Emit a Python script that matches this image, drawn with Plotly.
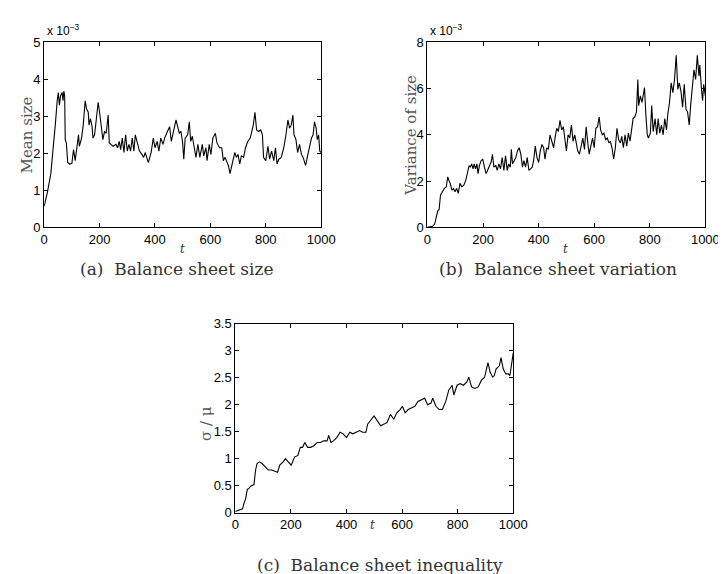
import plotly.graph_objects as go

# ---------------- data ----------------
t_a = [0, 12, 24, 35, 41, 47, 51, 55, 59, 65, 68, 71, 74, 76, 80, 85, 92, 100, 106, 112,
       118, 124, 127, 135, 141, 148, 153, 159, 162, 167, 173, 176, 182, 188, 195, 200, 206,
       212, 218, 224, 231, 235, 241, 249, 259, 265, 271, 276, 282, 288, 294, 300, 306, 312,
       318, 324, 329, 335, 344, 353, 359, 365, 371, 376, 386, 394, 400, 408, 414, 421, 429,
       435, 445, 453, 459, 467, 476, 482, 488, 494, 500, 504, 509, 518, 524, 529, 535, 541,
       548, 555, 562, 571, 576, 584, 588, 596, 602, 609, 618, 624, 633, 641, 647, 653, 659,
       665, 671, 676, 682, 688, 694, 700, 706, 712, 720, 727, 735, 744, 751, 755, 761, 767,
       774, 782, 788, 792, 800, 808, 814, 821, 829, 835, 841, 847, 856, 865, 873, 880, 886,
       892, 898, 902, 909, 915, 922, 929, 935, 944, 951, 959, 965, 971, 976, 982, 986, 991,
       995, 1000]
mean_size_e3 = [0.57, 0.96, 1.45, 2.24, 2.85, 3.42, 3.64, 3.30, 3.55, 3.64, 3.42, 3.68, 3.55,
                2.37, 2.28, 1.75, 1.71, 1.73, 2.10, 1.80, 2.24, 2.50, 2.19, 2.41, 2.76, 3.42,
                3.20, 3.11, 2.76, 2.94, 2.72, 2.41, 2.50, 2.94, 3.38, 3.11, 2.76, 2.37, 2.59,
                2.54, 3.03, 2.28, 2.24, 2.19, 2.24, 2.15, 2.32, 2.10, 2.41, 2.02, 2.50, 2.06,
                2.24, 2.06, 2.41, 2.06, 2.50, 2.32, 2.06, 1.97, 1.89, 2.02, 1.84, 1.75, 2.02,
                2.41, 2.15, 2.32, 2.06, 2.41, 2.24, 2.41, 2.59, 2.72, 2.32, 2.59, 2.90, 2.72,
                2.54, 2.59, 2.28, 1.84, 2.41, 2.50, 2.85, 2.32, 2.46, 2.19, 1.89, 2.24, 1.89,
                2.24, 1.93, 2.15, 1.80, 2.24, 1.97, 2.41, 2.54, 2.28, 2.15, 2.15, 1.80, 1.89,
                1.75, 1.67, 1.45, 1.62, 1.89, 2.02, 1.89, 1.97, 1.71, 1.93, 1.89, 2.15, 2.32,
                2.41, 2.63, 2.76, 3.11, 2.63, 2.59, 2.63, 2.50, 1.89, 1.80, 2.19, 1.84, 2.06,
                1.80, 2.15, 1.71, 1.84, 1.89, 2.15, 2.50, 2.90, 2.68, 2.76, 3.03, 2.50, 2.37,
                2.02, 2.24, 1.97, 1.89, 1.67, 1.93, 2.24, 2.41, 2.50, 2.85, 2.68, 2.37, 2.50,
                2.06, 2.02]

t_b = [0, 18, 26, 33, 37, 42, 47, 54, 61, 68, 73, 77, 82, 88, 94, 99, 105, 111, 117, 124,
       131, 138, 144, 150, 154, 159, 164, 168, 173, 178, 182, 187, 193, 199, 205, 211, 216,
       222, 229, 234, 239, 246, 251, 257, 263, 269, 275, 281, 287, 292, 298, 302, 306, 312,
       318, 324, 330, 336, 342, 347, 353, 359, 365, 371, 377, 382, 388, 394, 400, 406, 412,
       418, 423, 429, 435, 441, 447, 454, 460, 465, 471, 477, 483, 489, 494, 500, 506, 512,
       518, 524, 530, 536, 541, 547, 553, 559, 565, 571, 577, 582, 588, 594, 600, 606, 612,
       618, 623, 629, 635, 641, 647, 653, 658, 664, 670, 676, 682, 688, 694, 699, 705, 711,
       717, 723, 729, 735, 740, 746, 752, 757, 760, 766, 772, 778, 781, 786, 791, 795, 802,
       807, 812, 819, 825, 830, 836, 842, 848, 854, 860, 865, 871, 877, 883, 889, 895, 901,
       906, 912, 918, 924, 930, 936, 942, 947, 953, 959, 965, 971, 977, 980, 986, 990, 994,
       1000]
var_size_e3 = [0.00, 0.04, 0.14, 0.56, 0.70, 0.77, 1.40, 1.54, 1.68, 1.75, 2.18, 2.04, 1.90,
               1.61, 1.68, 1.54, 1.68, 1.47, 1.90, 1.75, 1.82, 2.04, 2.32, 2.67, 2.60, 2.74,
               2.53, 2.74, 2.53, 2.74, 2.32, 2.67, 2.88, 2.95, 2.60, 2.32, 2.46, 2.60, 2.81,
               3.16, 2.60, 2.67, 2.46, 2.74, 2.53, 3.02, 2.46, 3.09, 2.46, 2.74, 2.60, 3.37,
               2.74, 2.88, 3.02, 3.30, 3.44, 3.16, 2.60, 2.88, 2.60, 3.02, 2.46, 2.53, 2.60,
               2.88, 3.51, 3.02, 2.81, 3.30, 3.58, 3.44, 2.95, 3.44, 3.37, 4.00, 3.72, 3.44,
               3.93, 4.28, 4.14, 4.63, 4.21, 4.35, 3.86, 3.30, 4.00, 3.86, 4.42, 3.72, 4.00,
               3.65, 3.30, 3.16, 3.58, 3.86, 3.37, 4.35, 3.65, 3.16, 3.51, 3.86, 3.44, 4.28,
               4.35, 4.77, 4.21, 4.00, 4.07, 3.79, 3.86, 3.65, 3.72, 3.44, 2.95, 3.44, 4.28,
               3.79, 3.65, 3.93, 3.44, 4.00, 3.51, 4.07, 3.72, 4.28, 4.70, 4.77, 4.98, 6.39,
               5.26, 5.68, 5.40, 5.82, 6.04, 4.84, 4.00, 3.86, 4.07, 5.26, 4.14, 4.70, 4.00,
               4.70, 4.07, 4.42, 4.00, 4.70, 4.21, 4.91, 5.40, 6.25, 5.82, 6.39, 7.44, 5.96,
               6.25, 5.89, 5.19, 6.18, 5.12, 4.98, 4.42, 5.26, 6.11, 6.81, 6.39, 7.44, 6.53,
               7.02, 5.96, 5.47, 6.18, 5.68]

t_c = [0, 14, 26, 32, 37, 43, 49, 55, 67, 73, 78, 87, 96, 108, 119, 131, 143, 152, 160, 172,
       180, 189, 201, 213, 225, 234, 242, 250, 260, 271, 283, 295, 306, 318, 330, 336, 344,
       353, 365, 377, 388, 400, 412, 423, 435, 447, 458, 470, 476, 488, 499, 511, 523, 535,
       546, 558, 570, 581, 593, 601, 611, 622, 634, 646, 657, 669, 681, 692, 704, 710, 722,
       733, 745, 757, 768, 780, 786, 798, 809, 821, 833, 840, 850, 862, 874, 885, 897, 909,
       917, 926, 932, 938, 950, 956, 964, 973, 982, 988, 994, 1000]
sigma_over_mu = [0.02, 0.04, 0.07, 0.19, 0.25, 0.43, 0.45, 0.49, 0.52, 0.79, 0.91, 0.94, 0.91,
                 0.85, 0.79, 0.79, 0.76, 0.75, 0.88, 0.94, 1.00, 0.94, 0.88, 1.03, 1.06, 1.21,
                 1.21, 1.30, 1.21, 1.21, 1.24, 1.30, 1.30, 1.33, 1.33, 1.43, 1.30, 1.33, 1.39,
                 1.49, 1.46, 1.39, 1.49, 1.46, 1.49, 1.52, 1.49, 1.49, 1.64, 1.73, 1.79, 1.70,
                 1.61, 1.64, 1.67, 1.82, 1.73, 1.85, 1.91, 1.97, 1.85, 1.91, 1.94, 1.97, 2.06,
                 2.09, 2.12, 2.00, 2.03, 2.12, 1.97, 1.91, 1.91, 2.06, 2.27, 2.36, 2.18, 2.36,
                 2.39, 2.36, 2.42, 2.51, 2.33, 2.30, 2.33, 2.45, 2.51, 2.78, 2.60, 2.51, 2.54,
                 2.66, 2.72, 2.87, 2.66, 2.57, 2.57, 2.54, 2.81, 2.96]

x_ticks = [0, 200, 400, 600, 800, 1000]
ya_ticks = [0, 1, 2, 3, 4, 5]
yb_ticks = [0, 2, 4, 6, 8]
yc_ticks = [0, 0.5, 1, 1.5, 2, 2.5, 3, 3.5]
yc_ticktext = ["0", "0.5", "1", "1.5", "2", "2.5", "3", "3.5"]

captions = ["(a)  Balance sheet size", "(b)  Balance sheet variation", "(c)  Balance sheet inequality"]
ylabels = ["Mean size", "Variance of size", "σ / μ"]

# ---------------- figure ----------------
W, H = 726, 574
fig = go.Figure()

line = dict(color="black", width=1.1)
fig.add_trace(go.Scatter(x=t_a, y=mean_size_e3, mode="lines", line=line, xaxis="x", yaxis="y"))
fig.add_trace(go.Scatter(x=t_b, y=var_size_e3, mode="lines", line=line, xaxis="x2", yaxis="y2"))
fig.add_trace(go.Scatter(x=t_c, y=sigma_over_mu, mode="lines", line=line, xaxis="x3", yaxis="y3"))

tickfont = dict(family="Liberation Sans, Arial, sans-serif", size=13, color="black")

def px_x(a, b):
    return [a / W, b / W]

def px_y(top, bottom):
    return [1 - bottom / H, 1 - top / H]

def xaxis(dom, anchor):
    return dict(domain=dom, anchor=anchor, range=[0, 1000], tickvals=x_ticks,
                showline=True, linecolor="black", linewidth=1, mirror="ticks",
                ticks="inside", ticklen=4, tickcolor="black", showgrid=False, zeroline=False,
                tickfont=tickfont)

def yaxis(dom, anchor, rng, tv, tt=None):
    d = dict(domain=dom, anchor=anchor, range=rng, tickvals=tv,
             showline=True, linecolor="black", linewidth=1, mirror="ticks",
             ticks="inside", ticklen=4, tickcolor="black", showgrid=False, zeroline=False,
             tickfont=tickfont)
    if tt is not None:
        d["ticktext"] = tt
    return d

fig.update_layout(
    width=W, height=H, margin=dict(l=0, r=0, t=0, b=0),
    paper_bgcolor="white", plot_bgcolor="white", showlegend=False,
    xaxis=xaxis(px_x(33, 317), "y"),
    yaxis=yaxis(px_y(28, 218), "x", [0, 5], ya_ticks),
    xaxis2=xaxis(px_x(426, 711), "y2"),
    yaxis2=yaxis(px_y(28, 218), "x2", [0, 8], yb_ticks),
    xaxis3=xaxis(px_x(229, 514), "y3"),
    yaxis3=yaxis(px_y(317, 511), "x3", [0, 3.5], yc_ticks, yc_ticktext),
)

serif = "DejaVu Serif, Liberation Serif, serif"
ann = []
# exponent labels
for x0 in (33, 426):
    ann.append(dict(x=(x0 + 1) / W, y=1 - 26 / H, xref="paper", yref="paper", xanchor="left",
                    yanchor="bottom", showarrow=False, text="x 10<sup>−3</sup>",
                    font=dict(family="Liberation Sans, Arial, sans-serif", size=12, color="black")))
# x-axis labels "t"
for xc, yc in ((175, 240), (568, 240), (370, 524)):
    ann.append(dict(x=xc / W, y=1 - yc / H, xref="paper", yref="paper", showarrow=False,
                    xanchor="center", yanchor="middle",
                    text="<i>t</i>", font=dict(family=serif, size=12, color="#333")))
# y labels
for (xc, yc), txt in zip(((15, 123), (409, 123), (199, 420)), ylabels):
    ann.append(dict(x=xc / W, y=1 - yc / H, xref="paper", yref="paper", showarrow=False,
                    xanchor="center", yanchor="middle",
                    text=txt, textangle=-90, font=dict(family=serif, size=15, color="#555")))
# captions
for (xc, yc), txt in zip(((169, 261), (560, 261), (377, 565)), captions):
    ann.append(dict(x=xc / W, y=1 - yc / H, xref="paper", yref="paper", showarrow=False,
                    xanchor="center", yanchor="middle",
                    text=txt, font=dict(family=serif, size=17, color="#333")))
fig.update_layout(annotations=ann)

fig.write_html("out.html")
